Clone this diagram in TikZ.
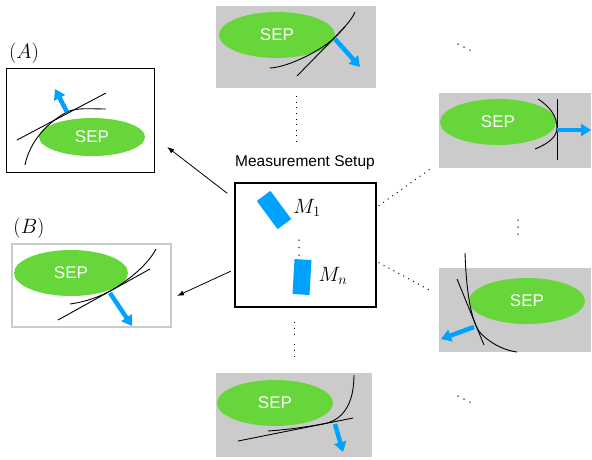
\documentclass[tikz,border=0pt]{standalone}
\usepackage{fontspec}
\newfontfamily\labelfont{Liberation Sans}
\usetikzlibrary{shapes.geometric,arrows.meta}
\definecolor{sepgreen}{RGB}{102,214,58}
\definecolor{normalblue}{RGB}{0,162,255}
\definecolor{panelgray}{RGB}{203,203,203}
\begin{document}
\begin{tikzpicture}[x=1pt, y=-1pt,
    panel/.style={rectangle, fill=panelgray, inner sep=0pt},
    boxed/.style={rectangle, draw=black, line width=1pt, fill=white, inner sep=0pt},
    sepnode/.style={ellipse, fill=sepgreen, text=white, inner sep=0pt,
        minimum width=116pt, minimum height=46pt,
        font=\labelfont\fontsize{17}{19}\selectfont},
    sensor/.style={rectangle, fill=normalblue, minimum width=17pt,
        minimum height=35pt, inner sep=0pt},
    normalarrow/.style={draw=normalblue, line width=4.5pt,
        -{Triangle[length=10pt,width=12pt]}},
    surf/.style={line width=0.9pt},
    link/.style={line width=0.8pt, -{Latex[length=7pt,width=5pt]}},
    dotlink/.style={line width=1pt, dash pattern=on 1pt off 4.6pt},
    ellipsisdot/.style={circle, fill=black, inner sep=0pt, minimum size=1.5pt},
    mathlabel/.style={font=\fontsize{21.5}{24}\selectfont, inner sep=0pt}
]
    \useasboundingbox (0,0) rectangle (592,459);

    % panels
    \node[boxed, minimum width=148pt, minimum height=104pt] (panA) at (80,120) {};
    \node[mathlabel] (labA) at (24,53) {$(A)$};
    \node[boxed, draw=panelgray, line width=2pt, minimum width=159pt,
        minimum height=83pt] (panB) at (91.5,285.5) {};
    \node[mathlabel] (labB) at (29,228) {$(B)$};
    \node[panel, minimum width=160pt, minimum height=82pt] (panT) at (296,47) {};
    \node[panel, minimum width=152pt, minimum height=75pt] (panR) at (515,130.5) {};
    \node[panel, minimum width=152pt, minimum height=84pt] (panS) at (515,310) {};
    \node[panel, minimum width=156pt, minimum height=84pt] (panD) at (294,415) {};

    % SEP regions
    \node[sepnode, minimum width=106pt, minimum height=38pt] (sepA) at (92,137) {SEP};
    \node[sepnode, minimum width=114pt] (sepB) at (71,273) {SEP};
    \node[sepnode] (sepT) at (277,35) {SEP};
    \node[sepnode] (sepR) at (498,122) {SEP};
    \node[sepnode] (sepS) at (527,301) {SEP};
    \node[sepnode] (sepD) at (275,403) {SEP};

    % panel A
    \draw[surf] (17,140) -- (106,93);
    \draw[surf] (25,165) .. controls (30,140) and (49.3,121.3) .. (67,112)
        .. controls (75.9,107.3) and (92,109) .. (106,109);
    \draw[normalarrow] (67,112) -- (55,89);

    % panel B
    \draw[surf] (58,320) -- (150,269);
    \draw[surf] (70,304) .. controls (85,302) and (99.5,296.8) .. (110,291)
        .. controls (122.3,284.2) and (146,268) .. (156,249);
    \draw[normalarrow] (110,293) -- (132,326);

    % top
    \draw[surf] (297,76) -- (345,27);
    \draw[surf] (270,68) .. controls (290,67) and (323.5,48.7) .. (334,38)
        .. controls (341,30.9) and (352,20) .. (355,12);
    \draw[normalarrow] (335,39) -- (360,67);

    % right, upper
    \draw[surf] (557,99) -- (557,160);
    \draw[surf] (538,99) .. controls (552,108) and (557,118) .. (557,128)
        .. controls (557,136) and (550,143) .. (535,149);
    \draw[normalarrow] (557,130) -- (591,130);

    % right, lower
    \draw[surf] (457,279) -- (484,345);
    \draw[surf] (465,253) .. controls (466,280) and (468.4,307.5) .. (476,326)
        .. controls (480.5,337.1) and (500,350) .. (517,352);
    \draw[normalarrow] (474,327) -- (441,339);

    % bottom
    \draw[surf] (238,441) -- (353,418);
    \draw[surf] (354,375) .. controls (354,405) and (342,420) .. (325,423.5)
        .. controls (310,426.5) and (285,430) .. (268,431);
    \draw[normalarrow] (335,424) -- (343,452);

    % measurement setup
    \node[boxed, line width=1.2pt, minimum width=141pt, minimum height=124pt]
        (setup) at (305.5,245) {};
    \node[anchor=base, inner sep=0pt, font=\labelfont\fontsize{15.5}{18}\selectfont]
        (title) at (305,166.7) {Measurement Setup};
    \node[sensor, rotate=36.5] (m1) at (274,210) {};
    \node[mathlabel] (m1lab) at (307,208) {$M_1$};
    \node[sensor, rotate=-3.3] (mn) at (302,277) {};
    \node[mathlabel] (mnlab) at (333,276) {$M_n$};
    \foreach \i in {0,1,2}
        \node[ellipsisdot] (vd\i) at (299,{240+7.5*\i}) {};

    % connections
    \draw[link, shorten <=9pt, shorten >=16pt] (setup.147.5) -- (panA.-13.7);
    \draw[link, shorten <=4pt, shorten >=5.5pt] (setup.199.7) -- (panB.-9.1);
    \draw[dotlink, shorten <=8pt, shorten >=13pt] (panT.south) -- (panT.south |- title.north);
    \draw[dotlink, shorten <=2.5pt, shorten >=10.8pt] (setup.28.8) -- (panR.203.6);
    \draw[dotlink, shorten <=2.3pt, shorten >=11.3pt] (setup.-13.5) -- (panS.169.1);
    \draw[dotlink, dash pattern=on 1pt off 5pt on 1pt off 5pt on 1pt off 9pt,
        shorten <=14pt, shorten >=16pt] (panD.north |- setup.south) -- (panD.north);

    % more measurements
    \foreach \i in {0,1,2} {
        \node[ellipsisdot] (ur\i) at ({458+6*\i},{44+3*\i}) {};
        \node[ellipsisdot] (rm\i) at (518,{220+7*\i}) {};
        \node[ellipsisdot] (lr\i) at ({458+6*\i},{396+3*\i}) {};
    }
\end{tikzpicture}
\end{document}
